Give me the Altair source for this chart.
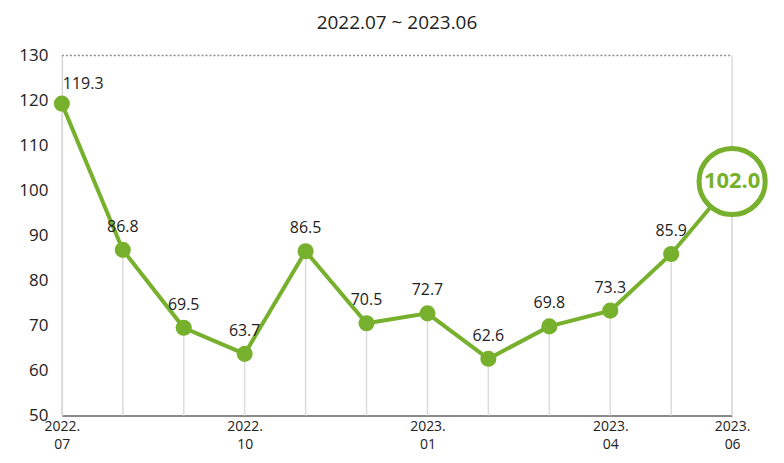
import altair as alt
import pandas as pd

months = ['2022.07', '2022.08', '2022.09', '2022.10', '2022.11', '2022.12',
          '2023.01', '2023.02', '2023.03', '2023.04', '2023.05', '2023.06']
values = [119.3, 86.8, 69.5, 63.7, 86.5, 70.5, 72.7, 62.6, 69.8, 73.3, 85.9, 102.0]
shown_ticks = ['2022.07', '2022.10', '2023.01', '2023.04', '2023.06']

green = '#77b02d'
font = 'Open Sans'

df = pd.DataFrame({'month': months, 'value': values})
df['label'] = df['value'].map(lambda v: f'{v:.1f}')
df['base'] = 50
df['idx'] = range(len(df))

last = len(df) - 1
tick_expr = "indexof(" + str(shown_ticks) + ", datum.value) >= 0 ? [substring(datum.value, 0, 5), substring(datum.value, 5)] : ''"

x = alt.X('month:O', sort=None, title=None,
          scale=alt.Scale(type='point', padding=0),
          axis=alt.Axis(labelExpr=tick_expr, labelAngle=0, ticks=False,
                        domainColor='#8a8a8a', domainWidth=2,
                        labelFontSize=14, labelColor='#222', labelPadding=4,
                        labelLineHeight=18, labelFont=font))
y_scale = alt.Scale(domain=[50, 130], nice=False)

base = alt.Chart(df)

drops = base.mark_rule(color='#dcdcdc', strokeWidth=1.5).encode(
    x=x,
    y=alt.Y('value:Q', scale=y_scale, title=None,
            axis=alt.Axis(values=list(range(50, 131, 10)), grid=False, ticks=False,
                          domainColor='#d6d6d6', domainWidth=1.5,
                          labelFontSize=17, labelColor='#222', labelPadding=14,
                          labelFont=font)),
    y2='base:Q'
)

edges = base.transform_filter(f'datum.idx == {last}').mark_rule(
    color='#dcdcdc', strokeWidth=1.5
).encode(x=x, y=alt.datum(130), y2=alt.datum(50))

top = base.transform_filter('datum.idx == 0').mark_rule(
    color='#8a8a8a', strokeWidth=1.5, strokeDash=[2, 2]
).encode(x=alt.value(0), x2=alt.value(672), y=alt.datum(130))

line = base.mark_line(color=green, strokeWidth=4).encode(x=x, y=alt.Y('value:Q', scale=y_scale))

dots = base.transform_filter(f'datum.idx < {last}').mark_circle(
    color=green, opacity=1, size=260
).encode(x=x, y=alt.Y('value:Q', scale=y_scale))

first_label = base.transform_filter('datum.idx == 0').mark_text(
    align='left', dx=1, dy=-20, fontSize=16, color='#222', font=font
).encode(x=x, y=alt.Y('value:Q', scale=y_scale), text='label:N')

labels = base.transform_filter(f'datum.idx > 0 && datum.idx < {last}').mark_text(
    align='center', dx=0, dy=-23, fontSize=16, color='#222', font=font
).encode(x=x, y=alt.Y('value:Q', scale=y_scale), text='label:N')

big = base.transform_filter(f'datum.idx == {last}').mark_circle(
    color='white', stroke=green, strokeWidth=5, opacity=1, size=4400
).encode(x=x, y=alt.Y('value:Q', scale=y_scale))

big_text = base.transform_filter(f'datum.idx == {last}').mark_text(
    fontSize=22, fontWeight='bold', color=green, font=font, baseline='middle'
).encode(x=x, y=alt.Y('value:Q', scale=y_scale), text='label:N')

chart = alt.layer(drops, edges, top, line, dots, first_label, labels, big, big_text).properties(
    width=672,
    height=361,
    padding={'left': 10, 'top': 5, 'right': 0, 'bottom': 5},
    title=alt.TitleParams('2022.07 ~ 2023.06', fontSize=19, fontWeight='normal',
                          font=font, color='#222', anchor='middle', offset=14)
).configure_view(stroke=None)

chart.save("out.html", embed_options={"renderer": "svg", "actions": False})
